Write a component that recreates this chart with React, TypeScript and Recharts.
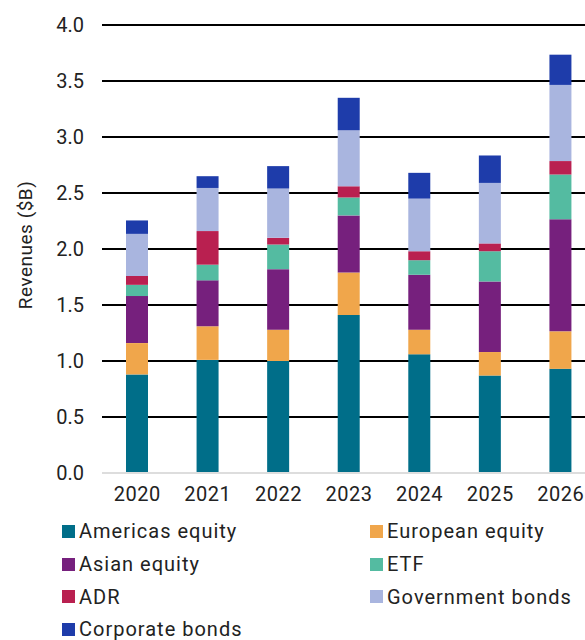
import React from 'react';
import { BarChart, Bar, XAxis, YAxis, CartesianGrid } from 'recharts';

// Revenues by product line, $B
const years = ['2020', '2021', '2022', '2023', '2024', '2025', '2026'];
const americasEquity = [0.88, 1.01, 1.0, 1.41, 1.06, 0.87, 0.93];
const europeanEquity = [0.28, 0.3, 0.28, 0.38, 0.22, 0.21, 0.335];
const asianEquity = [0.42, 0.41, 0.54, 0.51, 0.49, 0.63, 1.0];
const etf = [0.1, 0.14, 0.22, 0.16, 0.13, 0.27, 0.4];
const adr = [0.08, 0.3, 0.06, 0.1, 0.08, 0.07, 0.12];
const governmentBonds = [0.375, 0.385, 0.44, 0.5, 0.47, 0.54, 0.68];
const corporateBonds = [0.12, 0.105, 0.2, 0.29, 0.23, 0.245, 0.27];
const yTicks = [0, 0.5, 1, 1.5, 2, 2.5, 3, 3.5, 4];

const SERIES = [
  { key: 'americas', name: 'Americas equity', color: '#006E89', values: americasEquity },
  { key: 'european', name: 'European equity', color: '#F0A64B', values: europeanEquity },
  { key: 'asian', name: 'Asian equity', color: '#76207D', values: asianEquity },
  { key: 'etf', name: 'ETF', color: '#54BBA1', values: etf },
  { key: 'adr', name: 'ADR', color: '#B92050', values: adr },
  { key: 'gov', name: 'Government bonds', color: '#A9B5DF', values: governmentBonds },
  { key: 'corp', name: 'Corporate bonds', color: '#1E3CAA', values: corporateBonds },
];

const data = years.map((year, i) => {
  const row: any = { year };
  SERIES.forEach((s) => {
    row[s.key] = s.values[i];
  });
  return row;
});

const FONT = 'Roboto, "Noto Sans", sans-serif';

const YLabel = () => (
  <text
    x={25}
    y={245}
    transform="rotate(-90, 25, 245)"
    textAnchor="middle"
    dominantBaseline="central"
    fontSize={19}
    fill="#222"
    fontFamily={FONT}
    letterSpacing={0.5}
  >
    Revenues ($B)
  </text>
);

const ChartLegend = () => (
  <div
    style={{
      position: 'absolute',
      left: 62,
      top: 515,
      width: 523,
      display: 'grid',
      gridTemplateColumns: '308px 215px',
      fontFamily: FONT,
      fontSize: 20,
      letterSpacing: 1,
      color: '#222',
    }}
  >
    {SERIES.map((s) => (
      <div key={s.key} style={{ display: 'flex', alignItems: 'center', height: 32.7, whiteSpace: 'nowrap' }}>
        <span style={{ width: 13, height: 13, background: s.color, marginRight: 4, display: 'inline-block' }} />
        <span>{s.name}</span>
      </div>
    ))}
  </div>
);

export default function App() {
  return (
    <div
      style={{
        position: 'absolute',
        left: 0,
        top: 0,
        width: 585,
        height: 640,
        overflow: 'hidden',
        background: '#fff',
      }}
    >
      <BarChart
        width={600}
        height={640}
        data={data}
        margin={{ top: 25, right: 4, left: 0, bottom: 137 }}
        barCategoryGap={0}
      >
        <CartesianGrid vertical={false} stroke="#000" strokeWidth={2} />
        <XAxis
          dataKey="year"
          height={30}
          tickLine={false}
          axisLine={{ stroke: '#ddd', strokeWidth: 2 }}
          tickSize={0}
          tickMargin={14}
          tick={{ fontSize: 20, fill: '#222', fontFamily: FONT, letterSpacing: 0.5 }}
        />
        <YAxis
          width={102}
          domain={[0, 4]}
          ticks={yTicks}
          tickFormatter={(v: number) => v.toFixed(1)}
          axisLine={false}
          tickLine={false}
          tickSize={0}
          tickMargin={18}
          tick={{ fontSize: 20, fill: '#222', fontFamily: FONT }}
          label={{ content: <YLabel /> }}
        />
        {SERIES.map((s) => (
          <Bar
            key={s.key}
            dataKey={s.key}
            name={s.name}
            stackId="rev"
            fill={s.color}
            barSize={22}
            isAnimationActive={false}
          />
        ))}
      </BarChart>
      <ChartLegend />
    </div>
  );
}
